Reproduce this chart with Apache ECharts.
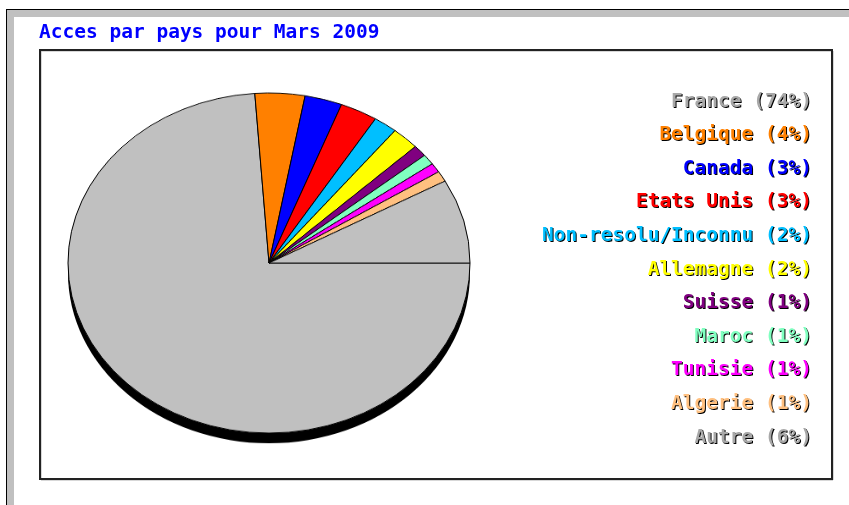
<!DOCTYPE html>
<html>
<head>
<meta charset="utf-8">
<script src="https://cdn.jsdelivr.net/npm/echarts@6/dist/echarts.min.js"></script>
<style>
html, body { margin: 0; padding: 0; background: #fff; overflow: hidden; }
#main { position: absolute; left: 0; top: 0; width: 849px; height: 505px; }
#pie { position: absolute; left: 0; top: 0; width: 849px; height: 505px;
       transform: scaleY(0.846); transform-origin: 0 263px; }
</style>
</head>
<body>
<div id="main"></div>
<div id="pie"></div>
<script>
// data
var countries = ['France', 'Belgique', 'Canada', 'Etats Unis', 'Non-resolu/Inconnu', 'Allemagne',
                 'Suisse', 'Maroc', 'Tunisie', 'Algerie', 'Autre'];
var shares = [73.8, 4.0, 3.0, 3.0, 1.9, 2.2, 1.1, 1.0, 0.9, 1.0, 8.0];
var shareLabels = ['74%', '4%', '3%', '3%', '2%', '2%', '1%', '1%', '1%', '1%', '6%'];
var colors = ['#c0c0c0', '#ff8000', '#0000ff', '#ff0000', '#00bfff', '#ffff00',
              '#800080', '#80ffc0', '#ff00ff', '#ffc080', '#c0c0c0'];
var titleText = 'Acces par pays pour Mars 2009';

var font = 'bold 19.5px "DejaVu Sans Mono", monospace';

/*****frame, title and legend*****/
var mainChart = echarts.init(document.getElementById('main'));
var graphics = [
	// outer window frame
	{ type: 'rect', shape: { x: 6, y: 9, width: 843, height: 496 }, style: { fill: '#000' }, silent: true },
	{ type: 'rect', shape: { x: 7, y: 10, width: 842, height: 495 }, style: { fill: '#c0c0c0' }, silent: true },
	{ type: 'rect', shape: { x: 14, y: 17, width: 835, height: 488 }, style: { fill: '#fff' }, silent: true },
	// inner plot box
	{ type: 'rect', shape: { x: 41, y: 51, width: 792, height: 429 }, style: { fill: 'none', stroke: '#b0b0b0', lineWidth: 1 }, silent: true },
	{ type: 'rect', shape: { x: 40, y: 50, width: 792, height: 429 }, style: { fill: 'none', stroke: '#222', lineWidth: 2 }, silent: true }
];

for (var i = 0; i < countries.length; i++) {
	var txt = countries[i] + ' (' + shareLabels[i] + ')';
	var y = 101.5 + i * 33.6;
	graphics.push({
		type: 'text', silent: true,
		style: { x: 813, y: y + 1, text: txt, fill: '#000', font: font, align: 'right', verticalAlign: 'middle' }
	});
	graphics.push({
		type: 'text', silent: true,
		style: { x: 812, y: y, text: txt, fill: colors[i] === '#c0c0c0' ? '#a8a8a8' : colors[i], font: font, align: 'right', verticalAlign: 'middle' }
	});
}

mainChart.setOption({
	animation: false,
	title: {
		text: titleText,
		left: 39,
		top: 23,
		padding: 0,
		textStyle: { color: '#0000ff', fontFamily: '"DejaVu Sans Mono", monospace', fontWeight: 'bold', fontSize: 19.5 }
	},
	graphic: graphics
});

/*****pie (squashed into an ellipse by css)*****/
var pieChart = echarts.init(document.getElementById('pie'));
var pieData = [];
for (var j = 0; j < countries.length; j++) {
	pieData.push({ name: countries[j], value: shares[j], itemStyle: { color: colors[j] } });
}

pieChart.setOption({
	animation: false,
	series: [{
		// dark depth under the pie
		type: 'pie',
		silent: true,
		center: [269, 263 + 12],
		radius: 201,
		label: { show: false },
		labelLine: { show: false },
		itemStyle: { color: '#000' },
		data: [{ name: 'shadow', value: 1 }],
		z: 1
	}, {
		type: 'pie',
		silent: true,
		center: [269, 263],
		radius: 201,
		startAngle: 0,
		clockwise: true,
		label: { show: false },
		labelLine: { show: false },
		itemStyle: { borderColor: '#000', borderWidth: 1 },
		data: pieData,
		z: 2
	}]
});
</script>
</body>
</html>
